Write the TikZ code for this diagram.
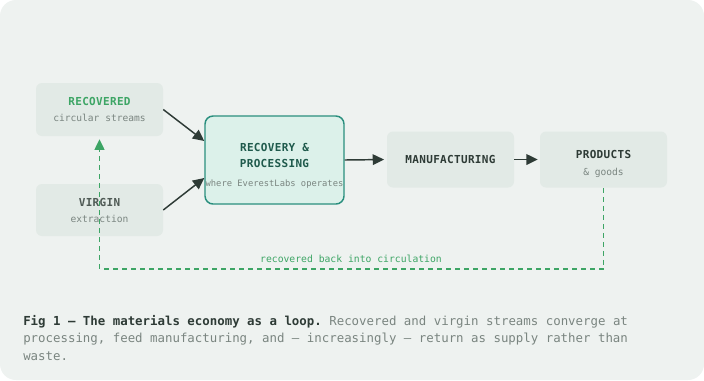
\documentclass[tikz,border=0pt]{standalone}
\usepackage{fontspec}
\setmonofont{DejaVu Sans Mono}
\usetikzlibrary{arrows.meta}
\definecolor{bgpanel}{HTML}{EEF2F0}
\definecolor{boxfill}{HTML}{E2EAE6}
\definecolor{procfill}{HTML}{DCF1EA}
\definecolor{procline}{HTML}{2A8F7E}
\definecolor{procink}{HTML}{1F5A4C}
\definecolor{inkdark}{HTML}{2E3B36}
\definecolor{inkvirgin}{HTML}{4F5A55}
\definecolor{inkgray}{HTML}{7A8580}
\definecolor{loopgreen}{HTML}{3DA565}
\newcommand{\titlefont}{\ttfamily\bfseries\fontsize{8.25pt}{12pt}\selectfont\addfontfeature{LetterSpace=3}}
\newcommand{\subfont}{\ttfamily\fontsize{7.2pt}{12pt}\selectfont\color{inkgray}}
\newcommand{\notefont}{\ttfamily\fontsize{6.6pt}{12pt}\selectfont\color{inkgray}}
\newcommand{\lowerby}[1]{\rule{0pt}{#1}}
\tikzset{
  stagebox/.style={fill=boxfill, rounded corners=4.5pt, align=center, inner sep=0pt,
    minimum width=95.25pt, minimum height=42pt, text=inkdark},
  procbox/.style={fill=procfill, draw=procline, line width=1.1pt, rounded corners=6pt,
    align=center, inner sep=0pt, minimum width=104.25pt, minimum height=66pt, text=procink},
  flow/.style={draw=inkdark, line width=1.1pt, -{Triangle[length=8.5pt,width=8pt]}},
  loopline/.style={draw=loopgreen, line width=1.1pt, dash pattern=on 3.75pt off 3pt,
    -{Triangle[length=8pt,width=7.5pt]}}
}
\begin{document}
\begin{tikzpicture}[x=0.75pt,y=-0.75pt]
\useasboundingbox (0,0) rectangle (704,380);
\fill[white] (0,0) rectangle (704,380);
\fill[bgpanel, rounded corners=12pt] (0,0) rectangle (704,380);
% stages
\node[stagebox, minimum height=39.75pt] (rec) at (99.5,109.5) {{\titlefont\color{loopgreen}RECOVERED}\\{\subfont circular streams}};
\node[stagebox, minimum height=39pt] (vir) at (99.5,210) {{\titlefont\color{inkvirgin}VIRGIN}\\{\subfont extraction}};
\node[procbox] (proc) at (274.5,160) {{\titlefont\lowerby{15.5pt}RECOVERY \&}\\{\titlefont PROCESSING}\\[2.25pt]{\notefont where EverestLabs operates}};
\node[stagebox] (man) at (450.5,159.5) {{\titlefont MANUFACTURING}};
\node[stagebox] (prod) at (603.5,159.5) {{\titlefont\lowerby{13pt}PRODUCTS}\\[0.75pt]{\subfont \& goods}};
% connectors
\draw[flow] (rec.east) -- ([yshift=14.25pt]proc.west);
\draw[flow] (vir.east) -- ([yshift=-13.5pt]proc.west);
\draw[flow, shorten >=2pt] (proc.east) -- (man.west);
\draw[flow, shorten >=1.5pt] (man.east) -- (prod.west);
% loop back
\draw[loopline] (prod.south) -- ++(0,81) -| ([yshift=-2.25pt]rec.south);
\node[font=\ttfamily\fontsize{7.3pt}{12pt}\selectfont, text=loopgreen] (back) at (351,259) {recovered back into circulation};
% caption
\node[anchor=base west, align=left, inner sep=0pt, text=inkgray,
  font=\ttfamily\fontsize{9.3pt}{13.1pt}\selectfont] (cap) at (23,360)
  {{\bfseries\color{inkdark}Fig 1 — The materials economy as a loop.} Recovered and virgin streams converge at\\
   processing, feed manufacturing, and — increasingly — return as supply rather than\\
   waste.};
\end{tikzpicture}
\end{document}
